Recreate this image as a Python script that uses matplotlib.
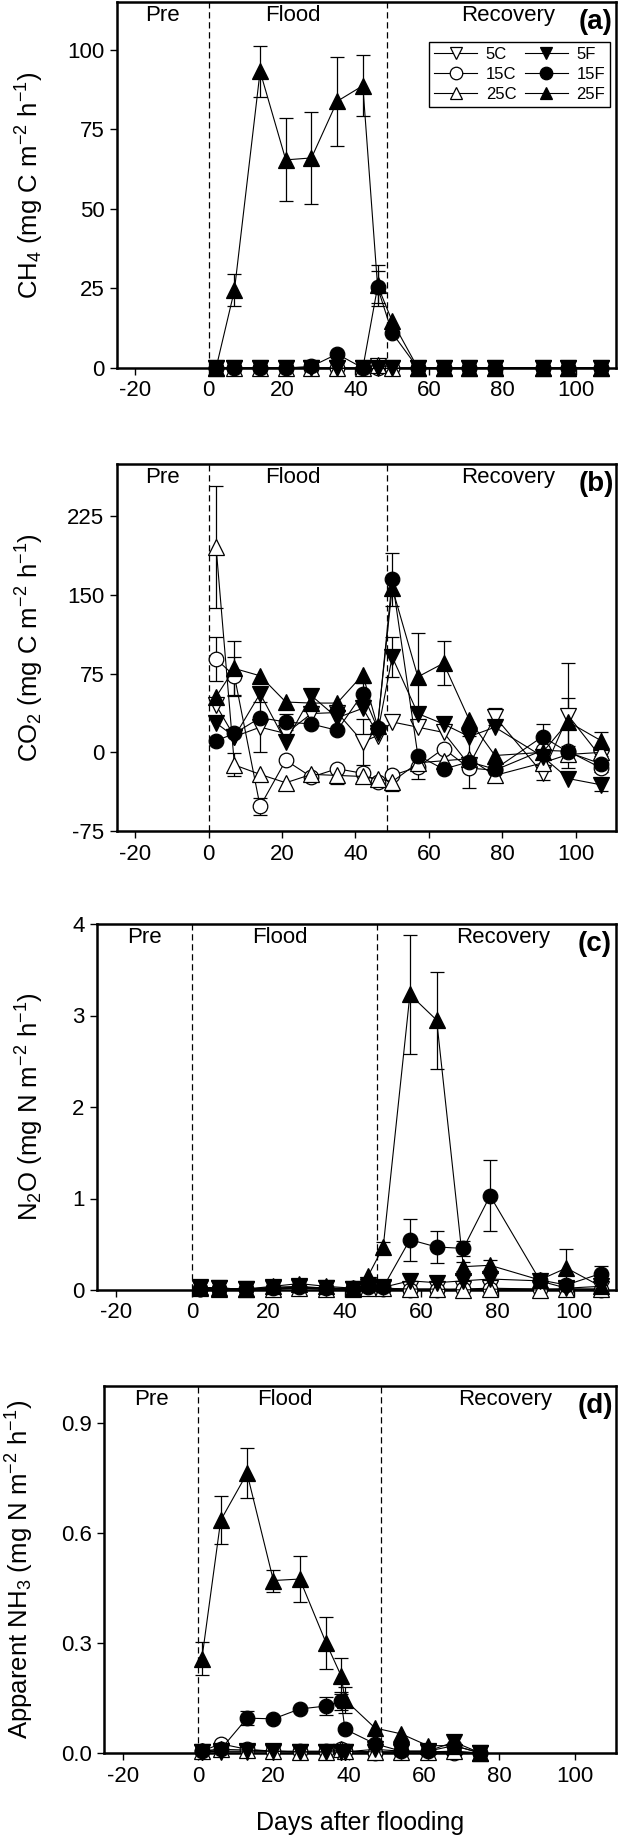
import matplotlib
matplotlib.use('Agg')
import matplotlib.pyplot as plt
import numpy as np

plt.rcParams['font.family'] = ['Liberation Sans', 'DejaVu Sans']
plt.rcParams['mathtext.fontset'] = 'custom'
plt.rcParams['mathtext.rm'] = 'Liberation Sans'
plt.rcParams['mathtext.it'] = 'Liberation Sans:italic'
plt.rcParams['mathtext.bf'] = 'Liberation Sans:bold'
plt.rcParams['axes.unicode_minus'] = False

# ---------------- data ----------------
series_names = ['5C', '15C', '25C', '5F', '15F', '25F']

days_abc = [2, 7, 14, 21, 28, 35, 42, 46, 50, 57, 64, 71, 78, 91, 98, 107]
days_d = [1, 6, 13, 20, 27, 34, 38, 39, 47, 54, 61, 68, 75]

# (a) CH4
ch4_5C = [0, 0, 0, 0, 0, 0, 0, 0.5, 0, 0, 0, 0, 0, 0, 0, 0]
ch4_15C = [0, 0, 0, 0, 0, 0, 0, 0, 0, 0, 0, 0, 0, 0, 0, 0]
ch4_25C = [0, 0, 0, 0, 0, 0, 0, 1, 0, 0, 0, 0, 0, 0, 0, 0]
ch4_5F = [0, 0, 0, 0, 0, 0, 0, 0, 0, 0, 0, 0, 0, 0, 0, 0]
ch4_15F = [0, 0, 0, 0, 0.5, 4.4, 0, 25.4, 11, 0, 0, 0, 0, 0, 0, 0]
ch4_25F = [0, 24.4, 93.2, 65.4, 66, 83.8, 88.7, 26, 14.7, 0, 0, 0, 0, 0, 0, 0]
ch4_15F_err = [0, 0, 0, 0, 0, 0, 0, 5, 0, 0, 0, 0, 0, 0, 0, 0]
ch4_25F_err = [0, 5, 8, 13, 14.5, 14, 9.5, 6.5, 0, 0, 0, 0, 0, 0, 0, 0]

# (b) CO2
co2_5C = [45, 15, 24, 18, 37, 38, 10, 16, 29, 24, 19, -12, 34, -20, 35, -5]
co2_15C = [89, 73, -51.5, -7.6, -23.5, -15.6, -20, -28, -22, -14, 3.5, -15, -17, 2, 1, -15]
co2_25C = [196, -12, -21, -29, -21, -22, -23, -25, -28, -10, -8, -6, -22, -10, -2, 0]
co2_5F = [28, 15, 56, 10, 54, 33, 42, 18, 91, 37, 27, 15, 24, -4, -25, -31]
co2_15F = [11, 18, 33, 29, 27, 21, 56, 23, 165, -3, -16, -9, -16, 15, 0, -11]
co2_25F = [53, 80, 73, 48, 47, 47, 74, 25, 157, 72, 85, 31, -3, 0, 29, 11]
co2_5C_err = [0, 0, 24, 0, 0, 0, 22, 0, 0, 0, 0, 0, 8, 6, 50, 0]
co2_15C_err = [21, 18, 8, 0, 0, 0, 0, 0, 0, 11, 0, 0, 0, 0, 0, 0]
co2_25C_err = [58, 11, 0, 0, 0, 8, 0, 0, 9, 0, 0, 0, 0, 0, 0, 0]
co2_5F_err = [0, 0, 0, 0, 0, 0, 0, 0, 19, 0, 0, 0, 0, 0, 0, 6]
co2_15F_err = [0, 0, 0, 8, 0, 0, 10, 0, 25, 0, 0, 25, 0, 12, 0, 8]
co2_25F_err = [0, 26, 0, 0, 0, 0, 0, 0, 0, 42, 21, 0, 0, 0, 23, 8]

# (c) N2O
n2o_5C = [0.03, 0.02, 0.01, 0.02, 0.03, 0.02, 0.01, 0.03, 0.02, 0.01, 0.01, 0.01, 0.02, 0.01, 0.01, 0.01]
n2o_15C = [0.01, 0.01, 0.01, 0.01, 0.02, 0.01, 0.01, 0.02, 0.01, 0.0, 0.0, 0.01, 0.01, 0.01, 0.01, 0.0]
n2o_25C = [0.02, 0.01, 0.01, 0.01, 0.02, 0.01, 0.01, 0.02, 0.02, 0.01, 0.01, 0.0, 0.01, 0.0, 0.01, 0.01]
n2o_5F = [0.02, 0.02, 0.01, 0.03, 0.04, 0.02, 0.01, 0.05, 0.03, 0.1, 0.08, 0.1, 0.12, 0.1, 0.02, 0.04]
n2o_15F = [0.01, 0.01, 0.01, 0.02, 0.03, 0.02, 0.02, 0.03, 0.03, 0.55, 0.47, 0.455, 1.03, 0.11, 0.055, 0.18]
n2o_25F = [0.03, 0.02, 0.01, 0.04, 0.07, 0.04, 0.02, 0.15, 0.47, 3.23, 2.95, 0.255, 0.27, 0.11, 0.24, 0.04]
n2o_15F_err = [0, 0, 0, 0, 0, 0, 0, 0, 0, 0.23, 0.18, 0.08, 0.39, 0, 0, 0.08]
n2o_25F_err = [0, 0, 0, 0, 0, 0, 0, 0, 0.06, 0.65, 0.53, 0.05, 0.06, 0, 0.21, 0]

# (d) apparent NH3
nh3_5C = [0.003, 0.003, 0.003, 0.003, 0.003, 0.003, 0.003, 0.003, 0.003, 0.003, 0.003, 0.003, 0.0]
nh3_15C = [0.005, 0.025, 0.01, 0.005, 0.005, 0.005, 0.01, 0.005, 0.0, 0.003, 0.003, 0.0, 0.0]
nh3_25C = [0.005, 0.01, 0.008, 0.005, 0.003, 0.003, 0.01, 0.005, 0.003, 0.003, 0.003, 0.005, 0.0]
nh3_5F = [0.003, 0.005, 0.005, 0.005, 0.003, 0.003, 0.003, 0.003, 0.01, 0.005, 0.005, 0.03, 0.0]
nh3_15F = [0.005, 0.01, 0.095, 0.093, 0.12, 0.128, 0.142, 0.065, 0.025, 0.005, 0.005, 0.02, 0.0]
nh3_25F = [0.257, 0.634, 0.762, 0.47, 0.474, 0.30, 0.21, 0.145, 0.068, 0.052, 0.02, 0.02, 0.0]
nh3_15F_err = [0, 0, 0.02, 0, 0, 0.025, 0.025, 0, 0, 0, 0, 0, 0]
nh3_25F_err = [0.045, 0.065, 0.068, 0.03, 0.062, 0.07, 0.05, 0.035, 0, 0, 0, 0, 0]

# ---------------- style ----------------
marker_of = {'5C': 'v', '15C': 'o', '25C': '^', '5F': 'v', '15F': 'o', '25F': '^'}
face_of = {'5C': 'white', '15C': 'white', '25C': 'white', '5F': 'black', '15F': 'black', '25F': 'black'}
size_of = {'v': 11.5, 'o': 10.5, '^': 11.5}

W, H = 620, 1837
fig = plt.figure(figsize=(W / 100, H / 100), dpi=100)

def ax_at(left, top, right, bottom):
    return fig.add_axes([left / W, 1 - bottom / H, (right - left) / W, (bottom - top) / H])

panels = [
    dict(box=(117, 2, 616, 368), days=days_abc,
         data=[ch4_5C, ch4_15C, ch4_25C, ch4_5F, ch4_15F, ch4_25F],
         errs=[None, None, None, None, ch4_15F_err, ch4_25F_err],
         ylim=(0, 115), yticks=[0, 25, 50, 75, 100], fmt='{:.0f}',
         ylabel='CH$_4$ (mg C m$^{-2}$ h$^{-1}$)', labx=30, letter='(a)', legend=True),
    dict(box=(117, 464, 616, 831), days=days_abc,
         data=[co2_5C, co2_15C, co2_25C, co2_5F, co2_15F, co2_25F],
         errs=[co2_5C_err, co2_15C_err, co2_25C_err, co2_5F_err, co2_15F_err, co2_25F_err],
         ylim=(-75, 275), yticks=[-75, 0, 75, 150, 225], fmt='{:.0f}',
         ylabel='CO$_2$ (mg C m$^{-2}$ h$^{-1}$)', labx=30, letter='(b)', legend=False),
    dict(box=(97, 924, 616, 1290), days=days_abc,
         data=[n2o_5C, n2o_15C, n2o_25C, n2o_5F, n2o_15F, n2o_25F],
         errs=[None, None, None, None, n2o_15F_err, n2o_25F_err],
         ylim=(0, 4), yticks=[0, 1, 2, 3, 4], fmt='{:.0f}',
         ylabel='N$_2$O (mg N m$^{-2}$ h$^{-1}$)', labx=30, letter='(c)', legend=False),
    dict(box=(104, 1386, 616, 1753), days=days_d,
         data=[nh3_5C, nh3_15C, nh3_25C, nh3_5F, nh3_15F, nh3_25F],
         errs=[None, None, None, None, nh3_15F_err, nh3_25F_err],
         ylim=(0, 1.0), yticks=[0.0, 0.3, 0.6, 0.9], fmt='{:.1f}',
         ylabel='Apparent NH$_3$ (mg N m$^{-2}$ h$^{-1}$)', labx=20, letter='(d)', legend=False),
]

for p in panels:
    l, t, r, b = p['box']
    ax = ax_at(l, t, r, b)
    ax.set_xlim(-25, 111)
    ax.set_ylim(*p['ylim'])
    days = np.array(p['days'], dtype=float)
    handles = []
    for name, vals, err in zip(series_names, p['data'], p['errs']):
        vals = np.array(vals, dtype=float)
        if err is not None:
            e = np.array(err, dtype=float)
            m = e > 0
            ax.errorbar(days[m], vals[m], yerr=e[m], fmt='none', ecolor='black',
                        elinewidth=0.9, capsize=5, capthick=0.9, clip_on=False, zorder=2)
        mk = marker_of[name]
        h, = ax.plot(days, vals, color='black', lw=0.8, marker=mk, ms=size_of[mk],
                     mfc=face_of[name], mec='black', mew=0.9, clip_on=False, zorder=3,
                     label=name)
        handles.append(h)
    for xv in (0, 48.5):
        ax.axvline(xv, color='black', lw=0.9, ls=(0, (5, 3)), zorder=1)
    ax.set_xticks([-20, 0, 20, 40, 60, 80, 100])
    ax.set_yticks(p['yticks'])
    ax.set_yticklabels([p['fmt'].format(v) for v in p['yticks']])
    ax.tick_params(direction='out', length=5, width=1, labelsize=16, pad=4,
                   top=False, right=False)
    for s in ax.spines.values():
        s.set_linewidth(1.8)
    ax.text(-12.5, 0.962, 'Pre', transform=ax.get_xaxis_transform(), ha='center', va='center', fontsize=16)
    ax.text(23, 0.962, 'Flood', transform=ax.get_xaxis_transform(), ha='center', va='center', fontsize=16)
    ax.text(81.5, 0.962, 'Recovery', transform=ax.get_xaxis_transform(), ha='center', va='center', fontsize=16)
    ax.text(105.5, 0.945, p['letter'], transform=ax.get_xaxis_transform(), ha='center', va='center',
            fontsize=20, fontweight='bold')
    fig.text(p['labx'] / W, 1 - ((t + b) / 2) / H, p['ylabel'], rotation=90,
             ha='center', va='center', fontsize=18.5)
    if p['legend']:
        leg = ax.legend(handles=handles, ncol=2, loc='upper right',
                        bbox_to_anchor=((610 - l) / (r - l), 1 - (42 - t) / (b - t)),
                        fontsize=12, frameon=True, fancybox=False, framealpha=1,
                        edgecolor='black', handlelength=2.6, handletextpad=0.5,
                        columnspacing=0.5, borderpad=0.3, labelspacing=0.3,
                        borderaxespad=0)
        leg.get_frame().set_linewidth(1.0)
        for lh in leg.legend_handles:
            lh.set_markersize(9)

fig.text(360 / W, 1 - 1823 / H, 'Days after flooding', ha='center', va='center', fontsize=18)

fig.savefig('out.png', dpi=100)
